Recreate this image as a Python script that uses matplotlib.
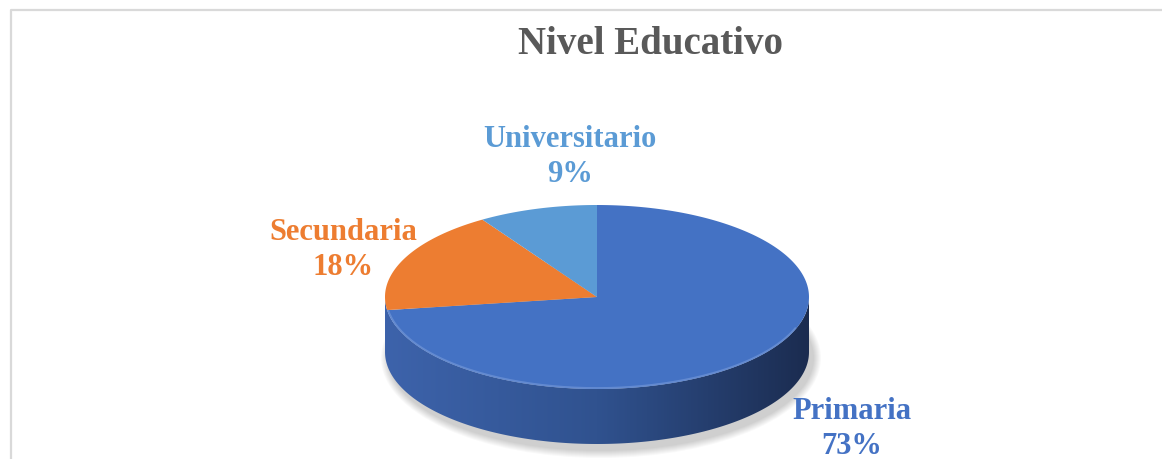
import matplotlib.pyplot as plt
import numpy as np
from matplotlib.patches import Polygon, Ellipse
from matplotlib.colors import LinearSegmentedColormap

# data
categories = ["Primaria", "Secundaria", "Universitario"]
values = [8, 2, 1]
colors = ["#4472C4", "#ED7D31", "#5B9BD5"]
title = "Nivel Educativo"

# label placement (pixel coords of the 460x1162 canvas)
label_x = [852, 343, 570]
label_y = [419, 240, 147]

fig = plt.figure(figsize=(11.62, 4.6), dpi=100)
ax = fig.add_axes([0, 0, 1, 1])
ax.set_xlim(0, 1162)
ax.set_ylim(460, 0)
ax.axis("off")

# chart frame
ax.plot([11, 11, 1162], [460, 11, 11], color="#d9d9d9", lw=1.6)

# ellipse geometry for the 3d look
cx, cy = 597, 298
a, b = 212, 92
depth = 55

# soft shadow
for k in range(8):
    ax.add_patch(Ellipse((cx + 4, cy + depth + 6), 2 * (a + 8 - k), 2 * (b + 8 - k),
                         color="#000000", alpha=0.022, lw=0, zorder=1))

# side of the disc
t = np.linspace(0, np.pi, 200)
top_x = cx + a * np.cos(t)
top_y = cy + b * np.sin(t)
side = np.concatenate([np.column_stack([top_x, top_y]),
                       np.column_stack([top_x[::-1], top_y[::-1] + depth])])
side_patch = Polygon(side, closed=True, facecolor="none", edgecolor="none", zorder=2)
ax.add_patch(side_patch)
cmap = LinearSegmentedColormap.from_list("side", ["#3d63ab", "#30528f", "#1b2c50"])
grad = np.linspace(0, 1, 256).reshape(1, -1)
im = ax.imshow(grad, cmap=cmap, extent=[cx - a, cx + a, cy + b + depth, cy - 5],
               aspect="auto", zorder=2)
im.set_clip_path(side_patch)

# top surface wedges, clockwise from 12 o'clock
total = sum(values)
fracs = np.array(values) / total
edges = np.concatenate([[0], np.cumsum(fracs)])
for i in range(len(values)):
    t0 = -np.pi / 2 + 2 * np.pi * edges[i]
    t1 = -np.pi / 2 + 2 * np.pi * edges[i + 1]
    tt = np.linspace(t0, t1, 200)
    px = np.concatenate([[cx], cx + a * np.cos(tt)])
    py = np.concatenate([[cy], cy + b * np.sin(tt)])
    ax.add_patch(Polygon(np.column_stack([px, py]), closed=True,
                         facecolor=colors[i], edgecolor="none", zorder=3))

# light rim on the front edge
tr = np.linspace(0.35, np.pi - 0.15, 200)
ax.plot(cx + (a - 1) * np.cos(tr), cy + (b - 1) * np.sin(tr),
        color="#7d9fdc", lw=1.3, alpha=0.55, zorder=4)

# labels
for i in range(len(values)):
    pct = "%d%%" % round(fracs[i] * 100)
    ax.text(label_x[i], label_y[i], categories[i], color=colors[i], fontsize=22,
            fontweight="bold", family="Liberation Serif", ha="center", va="baseline")
    ax.text(label_x[i], label_y[i] + 35, pct, color=colors[i], fontsize=22,
            fontweight="bold", family="Liberation Serif", ha="center", va="baseline")

ax.text(651, 54, title, color="#595959", fontsize=28, fontweight="bold",
        family="Liberation Serif", ha="center", va="baseline")

fig.savefig("out.png", dpi=100)
